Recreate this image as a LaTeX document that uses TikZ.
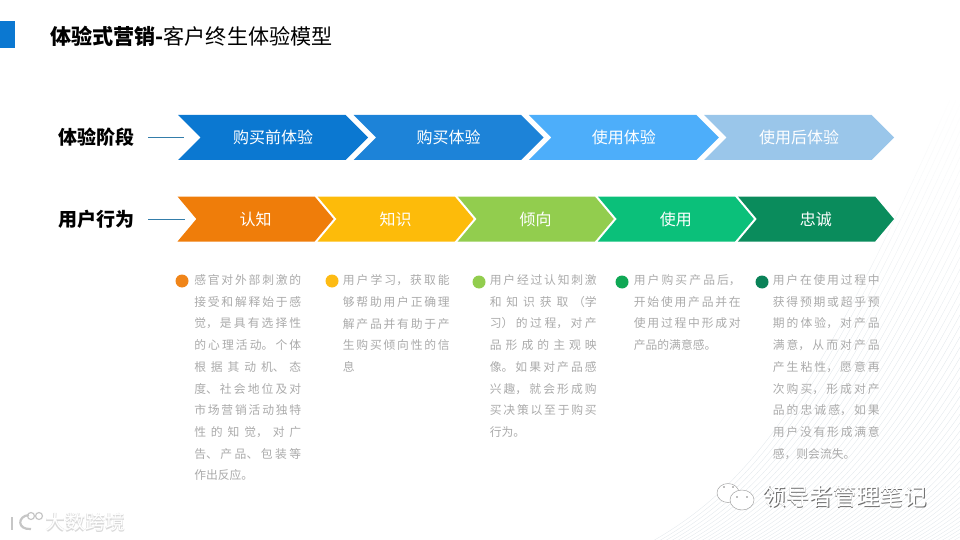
\documentclass[tikz,border=0pt]{standalone}
\usepackage{fontspec}
\setmainfont{Noto Sans CJK SC}
\usetikzlibrary{shapes.symbols, positioning, fadings}
\XeTeXlinebreaklocale "zh"
\XeTeXlinebreakskip=0pt plus 8pt
\newcommand{\brk}{\linebreak}
\definecolor{titleblue}{RGB}{11,120,209}
\definecolor{leadblue}{RGB}{52,125,170}
\definecolor{stagea}{RGB}{11,120,209}
\definecolor{stageb}{RGB}{29,131,216}
\definecolor{stagec}{RGB}{77,174,250}
\definecolor{staged}{RGB}{154,198,234}
\definecolor{acta}{RGB}{239,125,10}
\definecolor{actb}{RGB}{253,187,10}
\definecolor{actc}{RGB}{146,205,78}
\definecolor{actd}{RGB}{11,192,122}
\definecolor{acte}{RGB}{10,140,92}
\definecolor{dota}{RGB}{240,133,25}
\definecolor{dotb}{RGB}{253,187,20}
\definecolor{dotc}{RGB}{146,205,78}
\definecolor{dotd}{RGB}{15,168,85}
\definecolor{dote}{RGB}{10,130,88}
\definecolor{blurbgray}{RGB}{170,170,170}
\definecolor{hatchgray}{RGB}{228,233,237}

\begin{document}
\begin{tikzpicture}[
  x=1pt, y=-1pt,
  chev/.style={signal, signal from=west, signal to=east, inner sep=0pt, outer sep=0pt,
               minimum height=45pt, text=white, font=\fontsize{16}{18}\selectfont},
  stagechev/.style={chev, minimum width=190pt, signal pointer angle=90},
  actchev/.style={chev, minimum width=156pt, signal pointer angle=100},
  rowlabel/.style={font=\fontsize{19}{22}\selectfont\bfseries, text=black, inner sep=0pt},
  lead/.style={leadblue, line width=0.7pt},
  dotmark/.style={circle, minimum size=13pt, inner sep=0pt, outer sep=0pt},
  blurb/.style={text width=107pt, align=justify, inner sep=0pt, text=blurbgray,
                font=\fontsize{11.8}{21.7}\selectfont},
  mark text/.style={font=\fontsize{23.5}{26}\selectfont, inner sep=0pt},
]
  \useasboundingbox (0,0) rectangle (960,540);

  % hatched corner
  \begin{scope}
    \clip (0,0) rectangle (960,540);
    \foreach \i in {0,...,64}
      \draw[hatchgray, line width=0.4pt]
        (640+6*\i,548) .. controls (750+6*\i,490) and (815+6*\i,400) .. (950+6*\i,100);
    \fill[white, path fading=south] (780,95) rectangle (960,340);
  \end{scope}

  \fill[titleblue] (0,21) rectangle (15,48);
  \node[anchor=west, inner sep=0pt, font=\fontsize{21.1}{24}\selectfont] (title) at (50,36)
    {\textbf{体验式营销-}客户终生体验模型};

  % stages
  \node[stagechev, fill=stagea] (before) at (273,137.5) {购买前体验};
  \node[stagechev, fill=stageb, right=8pt of before] (buying) {购买体验};
  \node[stagechev, fill=stagec, right=7.8pt of buying] (using) {使用体验};
  \node[stagechev, fill=staged, right=7.8pt of using] (after) {使用后体验};

  % behaviour
  \node[actchev, fill=acta] (aware) at (255.5,219) {认知};
  \node[actchev, fill=actb, right=3pt of aware] (know) {知识};
  \node[actchev, fill=actc, right=3pt of know] (lean) {倾向};
  \node[actchev, fill=actd, right=3pt of lean] (usage) {使用};
  \node[actchev, fill=acte, right=3pt of usage] (loyal) {忠诚};

  \node[rowlabel] (stage) at (96,137.5) {体验阶段};
  \node[rowlabel] (act) at (96,219) {用户行为};
  \draw[lead] ([xshift=14pt]stage.east) -- ([xshift=-17pt]before.west);
  \draw[lead] ([xshift=14pt]act.east) -- ([xshift=-11pt]aware.west);

  \node[dotmark, fill=dota] (dota) at (182,281) {};
  \node[dotmark, fill=dotb] (dotb) at (332,281) {};
  \node[dotmark, fill=dotc] (dotc) at (479,282) {};
  \node[dotmark, fill=dotd] (dotd) at (622,282) {};
  \node[dotmark, fill=dote] (dote) at (762,282) {};

  \node[blurb, below right=-2pt and 7.5pt of dota.north east] (texta)
    {感官对外部刺激的\brk 接受和解释始于感\brk 觉，是具有选择性\brk 的心理活动。个体\brk 根据其动机、态\brk 度、社会地位及对\brk 市场营销活动独特\brk 性的知觉，对广\brk 告、产品、包装等\brk 作出反应。};
  \node[blurb, below right=-2pt and 6pt of dotb.north east] (textb)
    {用户学习，获取能\brk 够帮助用户正确理\brk 解产品并有助于产\brk 生购买倾向性的信\brk 息};
  \node[blurb, below right=-3pt and 6pt of dotc.north east] (textc)
    {用户经过认知刺激\brk 和知识获取（学\brk 习）的过程，对产\brk 品形成的主观映\brk 像。如果对产品感\brk 兴趣，就会形成购\brk 买决策以至于购买\brk 行为。};
  \node[blurb, below right=-3pt and 7pt of dotd.north east] (textd)
    {用户购买产品后，\brk 开始使用产品并在\brk 使用过程中形成对\brk 产品的满意感。};
  \node[blurb, below right=-3pt and 6pt of dote.north east] (texte)
    {用户在使用过程中\brk 获得预期或超乎预\brk 期的体验，对产品\brk 满意，从而对产品\brk 产生粘性，愿意再\brk 次购买，形成对产\brk 品的忠诚感，如果\brk 用户没有形成满意\brk 感，则会流失。};

  % watermarks
  \draw[gray!70, fill=white, line width=0.5pt] (728,493) ellipse (11pt and 9.5pt);
  \draw[gray!70, fill=white, line width=0.5pt] (742,500) ellipse (12pt and 10pt);
  \fill[gray] (724,487) circle (0.9pt) (733,487) circle (0.9pt) (737,497) circle (0.9pt) (747,497) circle (0.9pt);
  \node[mark text, text=gray!85!black, anchor=west] (markb) at (763,497.6) {领导者管理笔记};
  \node[mark text, text=white, anchor=west] (mark) at (762.3,497) {领导者管理笔记};

  \draw[gray!45, line width=2.2pt] (12,517) -- (12,530);
  \draw[gray!45, line width=2.2pt] (29,515) .. controls (17,516) and (17,530) .. (31,529);
  \draw[gray!45, line width=1.2pt] (31,516) circle (3.5pt) (39,516) circle (3.5pt);
  \node[inner sep=0pt, anchor=west, text=gray!30, font=\fontsize{20}{22}\selectfont\bfseries] (logob) at (45.6,522.6) {大数跨境};
  \node[inner sep=0pt, anchor=west, text=white, font=\fontsize{20}{22}\selectfont] (logo) at (45,522) {大数跨境};
\end{tikzpicture}
\end{document}
